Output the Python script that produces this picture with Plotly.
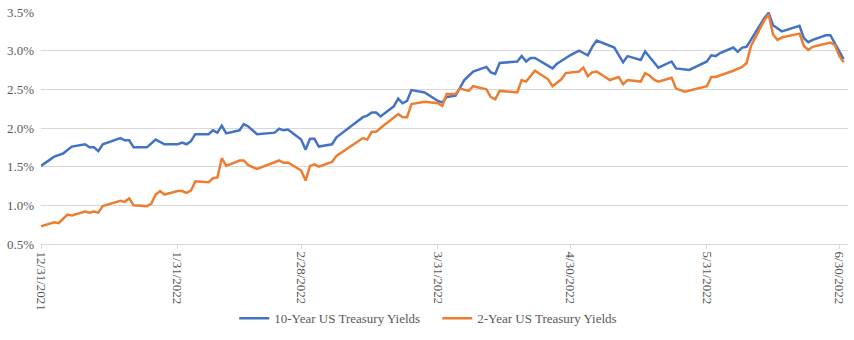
import datetime as dt
import plotly.graph_objects as go

START = dt.date(2021, 12, 31)

# 10-Year yields: (days after 12/31/2021, yield %)
ten_days = [0, 3, 5, 6, 7, 10, 11, 12, 13, 14, 18, 19, 20, 21, 24, 26, 28, 31, 32, 33, 34, 35, 38, 39, 40, 41, 42,
            45, 46, 47, 49, 53, 54, 55, 56, 59, 60, 61, 62, 63, 66, 67, 69, 70, 73, 74, 75, 76, 77, 80, 81, 82, 83,
            84, 87, 90, 91, 92, 94, 95, 96, 98, 101, 102, 103, 104, 108, 109, 110, 111, 112, 116, 117, 120, 122, 123,
            124, 125, 126, 130, 132, 133, 136, 137, 140, 143, 144, 147, 151, 152, 153, 154, 157, 158, 159, 160, 164,
            165, 166, 168, 172, 173, 174, 175, 178, 179, 181, 182]
ten_vals = [1.51, 1.63, 1.67, 1.72, 1.76, 1.79, 1.75, 1.75, 1.70, 1.79, 1.87, 1.84, 1.84, 1.75, 1.75, 1.85, 1.79,
            1.79, 1.81, 1.79, 1.83, 1.92, 1.92, 1.97, 1.94, 2.03, 1.93, 1.97, 2.05, 2.02, 1.92, 1.94, 1.99, 1.97,
            1.98, 1.85, 1.72, 1.86, 1.86, 1.76, 1.79, 1.88, 1.96, 2.01, 2.14, 2.16, 2.20, 2.20, 2.15, 2.28, 2.38,
            2.32, 2.35, 2.49, 2.46, 2.35, 2.33, 2.40, 2.42, 2.53, 2.62, 2.73, 2.79, 2.72, 2.70, 2.84, 2.86, 2.93,
            2.86, 2.905, 2.905, 2.77, 2.83, 2.94, 3.00, 2.97, 2.94, 3.05, 3.13, 3.04, 2.85, 2.93, 2.88, 2.99, 2.78,
            2.86, 2.77, 2.75, 2.86, 2.94, 2.93, 2.97, 3.04, 2.985, 3.04, 3.05, 3.42, 3.49, 3.33, 3.25, 3.32, 3.16,
            3.11, 3.14, 3.20, 3.20, 2.98, 2.89]

# 2-Year yields: (days after 12/31/2021, yield %)
two_days = [0, 3, 4, 6, 7, 10, 11, 12, 13, 14, 18, 19, 20, 21, 24, 25, 26, 27, 28, 31, 32, 33, 34, 35, 38, 39, 40,
            41, 42, 45, 46, 47, 49, 54, 55, 56, 59, 60, 61, 62, 63, 66, 67, 69, 70, 73, 74, 75, 76, 77, 81, 82, 83,
            84, 87, 90, 91, 92, 94, 95, 97, 98, 101, 102, 103, 104, 108, 109, 110, 112, 115, 116, 118, 119, 122, 123,
            124, 125, 126, 129, 131, 132, 133, 136, 137, 138, 139, 140, 143, 144, 146, 151, 152, 153, 157, 159, 160,
            161, 164, 165, 166, 167, 168, 172, 173, 174, 175, 179, 180, 181, 182]
two_vals = [0.73, 0.78, 0.77, 0.88, 0.87, 0.92, 0.905, 0.92, 0.905, 0.99, 1.06, 1.045, 1.09, 1.00, 0.99, 1.02, 1.14,
            1.185, 1.14, 1.185, 1.185, 1.16, 1.19, 1.31, 1.30, 1.35, 1.36, 1.61, 1.51, 1.58, 1.58, 1.52, 1.47, 1.58,
            1.55, 1.555, 1.45, 1.32, 1.51, 1.53, 1.50, 1.56, 1.64, 1.72, 1.75, 1.87, 1.85, 1.95, 1.95, 2.00, 2.18,
            2.14, 2.14, 2.31, 2.34, 2.32, 2.285, 2.44, 2.44, 2.51, 2.48, 2.54, 2.50, 2.40, 2.37, 2.48, 2.46, 2.62,
            2.60, 2.74, 2.63, 2.54, 2.63, 2.71, 2.73, 2.78, 2.67, 2.72, 2.73, 2.62, 2.66, 2.565, 2.62, 2.60, 2.71,
            2.68, 2.625, 2.60, 2.65, 2.51, 2.47, 2.54, 2.66, 2.66, 2.74, 2.79, 2.84, 3.06, 3.39, 3.47, 3.21, 3.14,
            3.17, 3.22, 3.06, 3.01, 3.05, 3.105, 3.075, 2.935, 2.85]

tick_dates = ["2021-12-31", "2022-01-31", "2022-02-28", "2022-03-31", "2022-04-30", "2022-05-31", "2022-06-30"]
tick_labels = ["12/31/2021", "1/31/2022", "2/28/2022", "3/31/2022", "4/30/2022", "5/31/2022", "6/30/2022"]

ten_x = [START + dt.timedelta(days=d) for d in ten_days]
two_x = [START + dt.timedelta(days=d) for d in two_days]

FONT = "Liberation Serif, DejaVu Serif, serif"
TXT = "#595959"

fig = go.Figure()
fig.add_trace(go.Scatter(x=ten_x, y=ten_vals, mode="lines", name="10-Year US Treasury Yields",
                         line=dict(color="#4472C4", width=2.5)))
fig.add_trace(go.Scatter(x=two_x, y=two_vals, mode="lines", name="2-Year US Treasury Yields",
                         line=dict(color="#ED7D31", width=2.5)))

fig.update_layout(
    width=854, height=340,
    margin=dict(l=41, r=6, t=12, b=92),
    paper_bgcolor="white", plot_bgcolor="white",
    font=dict(family=FONT, size=13, color=TXT),
    showlegend=True,
    legend=dict(orientation="h", x=0.491, xanchor="center", y=-0.385, yanchor="bottom",
                font=dict(family=FONT, size=13, color=TXT), itemwidth=30,
                entrywidth=158, entrywidthmode="pixels"),
)
fig.update_xaxes(
    type="date", range=["2021-12-31", "2022-07-02"],
    tickvals=tick_dates, ticktext=tick_labels, tickangle=90,
    showgrid=False, showline=True, linecolor="#D9D9D9", linewidth=1,
    ticks="outside", ticklen=4, tickcolor="#D9D9D9",
    tickfont=dict(family=FONT, size=13, color=TXT), automargin=False,
)
fig.update_yaxes(
    range=[0.5, 3.5], dtick=0.5, tick0=0.5, tickformat=".1f", ticksuffix="%",
    showgrid=True, gridcolor="#D9D9D9", gridwidth=1, zeroline=False,
    showline=False, ticks="", ticklabelstandoff=6,
    tickfont=dict(family=FONT, size=13, color=TXT), automargin=False,
)

fig.write_html("out.html")
